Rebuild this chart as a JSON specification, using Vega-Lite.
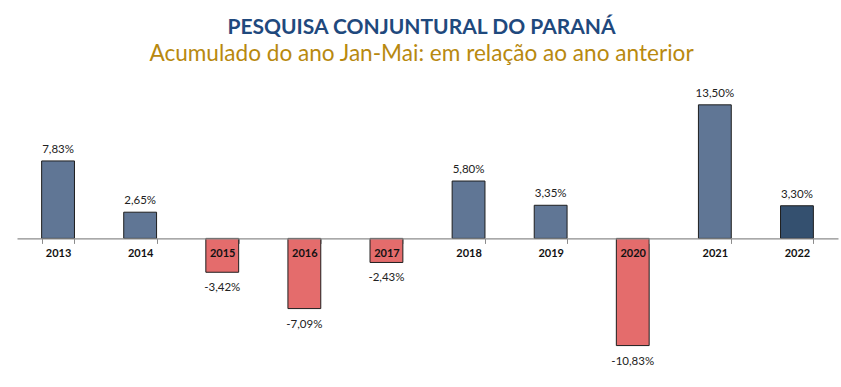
{
  "$schema": "https://vega.github.io/schema/vega-lite/v6.json",
  "width": 821,
  "height": 281,
  "autosize": "none",
  "padding": {"left": 17, "top": 90, "right": 3, "bottom": 16},
  "background": "white",
  "config": {
    "font": "Lato",
    "view": {"stroke": null}
  },
  "title": {
    "text": "PESQUISA CONJUNTURAL DO PARANÁ",
    "subtitle": "Acumulado do ano Jan-Mai: em relação ao ano anterior",
    "anchor": "middle",
    "dx": -6,
    "offset": 22,
    "font": "Lato",
    "fontSize": 21,
    "fontWeight": "bold",
    "color": "#1f497d",
    "subtitleFont": "Lato",
    "subtitleFontSize": 22.6,
    "subtitleFontWeight": "normal",
    "subtitleColor": "#b8890f",
    "subtitlePadding": 5
  },
  "data": {
    "values": [
      {"ano": "2013", "valor": 7.83, "rotulo": "7,83%"},
      {"ano": "2014", "valor": 2.65, "rotulo": "2,65%"},
      {"ano": "2015", "valor": -3.42, "rotulo": "-3,42%"},
      {"ano": "2016", "valor": -7.09, "rotulo": "-7,09%"},
      {"ano": "2017", "valor": -2.43, "rotulo": "-2,43%"},
      {"ano": "2018", "valor": 5.80, "rotulo": "5,80%"},
      {"ano": "2019", "valor": 3.35, "rotulo": "3,35%"},
      {"ano": "2020", "valor": -10.83, "rotulo": "-10,83%"},
      {"ano": "2021", "valor": 13.50, "rotulo": "13,50%"},
      {"ano": "2022", "valor": 3.30, "rotulo": "3,30%"}
    ]
  },
  "encoding": {
    "x": {
      "field": "ano",
      "type": "nominal",
      "sort": null,
      "scale": {"paddingInner": 0.6, "paddingOuter": 0.3},
      "axis": {
        "title": null,
        "labelAngle": 0,
        "labelFont": "Lato",
        "labelFontSize": 11,
        "labelFontWeight": "bold",
        "labelColor": "#111111",
        "labelPadding": 4,
        "tickBand": "extent",
        "tickSize": 5,
        "tickColor": "#8c8c8c",
        "domainColor": "#8c8c8c",
        "domainWidth": 1.3,
        "offset": {"expr": "scale('y', 0) - height"},
        "zindex": 1
      }
    },
    "y": {
      "field": "valor",
      "type": "quantitative",
      "scale": {"domain": [-13.4, 15], "nice": false, "zero": true},
      "axis": null
    }
  },
  "layer": [
    {
      "mark": {"type": "bar", "stroke": "#1e1e1e", "strokeWidth": 1},
      "encoding": {
        "color": {
          "condition": [
            {"test": "datum.ano === '2022'", "value": "#34506f"},
            {"test": "datum.valor < 0", "value": "#e46c6c"}
          ],
          "value": "#607695"
        }
      }
    },
    {
      "transform": [{"filter": "datum.valor >= 0"}],
      "mark": {"type": "text", "baseline": "bottom", "dy": -6, "fontSize": 11.5, "color": "#222222"},
      "encoding": {"text": {"field": "rotulo"}}
    },
    {
      "transform": [{"filter": "datum.valor < 0"}],
      "mark": {"type": "text", "baseline": "top", "dy": 10, "fontSize": 11.5, "color": "#222222"},
      "encoding": {"text": {"field": "rotulo"}}
    }
  ]
}
